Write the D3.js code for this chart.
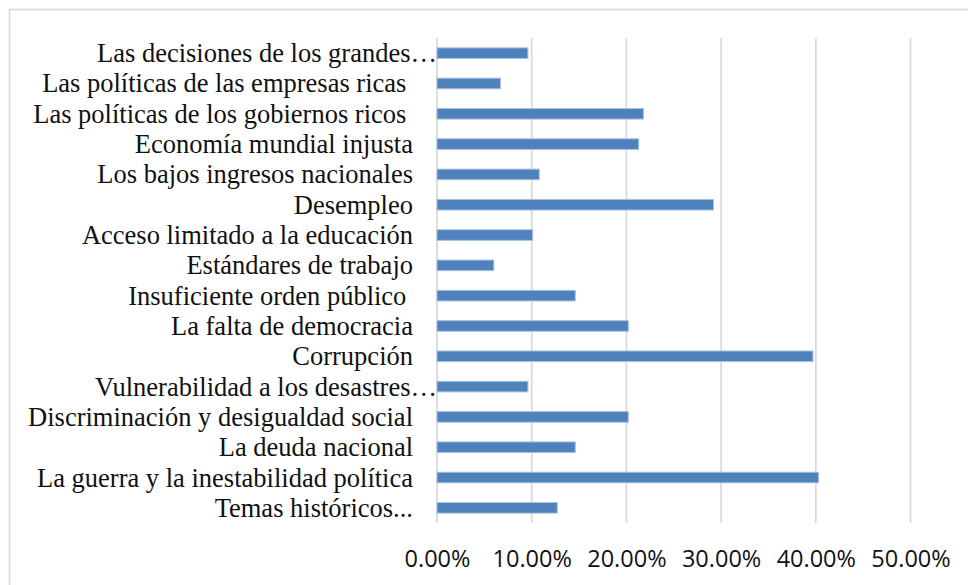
<!DOCTYPE html>
<html><head><meta charset="utf-8">
<script src="https://cdn.jsdelivr.net/npm/d3@7"></script>
<style>html,body{margin:0;padding:0;background:#fff;overflow:hidden}</style>
</head><body>
<script>
const categories = [
  "Las decisiones de los grandes…",
  "Las políticas de las empresas ricas ",
  "Las políticas de los gobiernos ricos ",
  "Economía mundial injusta",
  "Los bajos ingresos nacionales",
  "Desempleo",
  "Acceso limitado a la educación",
  "Estándares de trabajo",
  "Insuficiente orden público ",
  "La falta de democracia",
  "Corrupción",
  "Vulnerabilidad a los desastres…",
  "Discriminación y desigualdad social",
  "La deuda nacional",
  "La guerra y la inestabilidad política",
  "Temas históricos..."
];
const values = [0.096, 0.067, 0.218, 0.213, 0.108, 0.292, 0.101, 0.060, 0.146, 0.202, 0.397, 0.096, 0.202, 0.146, 0.403, 0.127];
const xTicks = [0, 0.1, 0.2, 0.3, 0.4, 0.5];

const W = 968, H = 585;
const svg = d3.select("body").append("svg").attr("width", W).attr("height", H);
svg.append("rect").attr("width", W).attr("height", H).attr("fill", "#fff");
svg.append("rect").attr("x", 9.5).attr("y", 9.5).attr("width", 980).attr("height", 600)
  .attr("fill", "none").attr("stroke", "#d9d9d9").attr("stroke-width", 1.6);

const x = d3.scaleLinear().domain([0, 0.5]).range([437, 910.5]);
const y = d3.scaleBand().domain(categories).range([38, 523]).paddingInner(0.65).paddingOuter(0.325);

// gridlines
svg.append("g").selectAll("line").data(xTicks).join("line")
  .attr("x1", d => x(d)).attr("x2", d => x(d)).attr("y1", 38).attr("y2", 523)
  .attr("stroke", "#d9d9d9").attr("stroke-width", 1.7);

// x tick labels
const xAxis = d3.axisBottom(x).tickValues(xTicks).tickFormat(d3.format(".2%")).tickSize(0).tickPadding(0);
const gx = svg.append("g").attr("transform", "translate(0,567)").call(xAxis);
gx.select(".domain").remove();
gx.selectAll("text").attr("dy", 0).attr("y", 0)
  .attr("font-family", "'Open Sans', sans-serif").attr("font-size", "23.5px").attr("fill", "#111");

// y labels
const yAxis = d3.axisLeft(y).tickSize(0).tickPadding(0);
const gy = svg.append("g").attr("transform", "translate(413,0)").call(yAxis);
gy.select(".domain").remove();
gy.selectAll("text")
  .attr("x", d => d.endsWith("…") ? 24 : 0)
  .attr("dy", 0)
  .attr("y", 9)
  .attr("font-family", "'Liberation Serif', 'Times New Roman', serif")
  .attr("font-size", "26.5px").attr("fill", "#111")
  .style("white-space", "pre").attr("xml:space", "preserve");

// bars
svg.append("g").selectAll("rect").data(categories).join("rect")
  .attr("x", x(0)).attr("y", d => y(d))
  .attr("width", (d, i) => x(values[i]) - x(0))
  .attr("height", y.bandwidth())
  .attr("fill", "#4f81bd").attr("stroke", "#a9c1e0").attr("stroke-width", 1);
</script>
</body></html>
